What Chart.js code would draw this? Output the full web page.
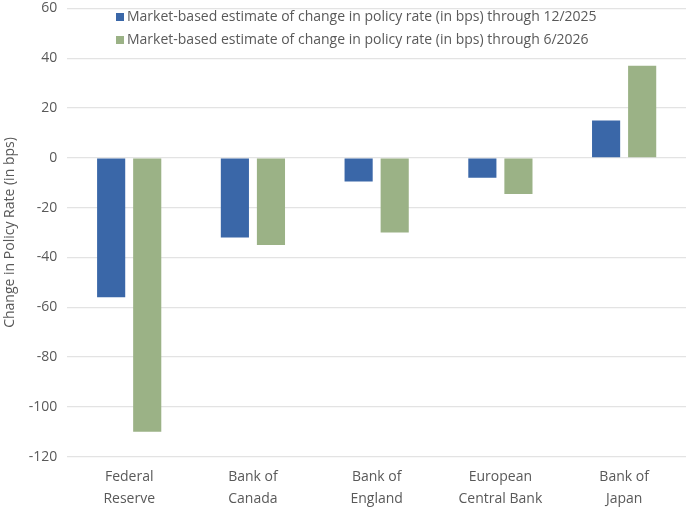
<!DOCTYPE html>
<html>
<head>
<meta charset="utf-8">
<script src="https://cdn.jsdelivr.net/npm/chart.js@4.4.0/dist/chart.umd.min.js"></script>
<style>
  html, body { margin: 0; padding: 0; background: #fff; overflow: hidden; }
  #wrap { width: 700px; height: 522px; position: relative; margin-top: -10px; }
</style>
</head>
<body>
<div id="wrap"><canvas id="chart"></canvas></div>
<script>
// Data
const banks = [
  ["Federal", "Reserve"],
  ["Bank of", "Canada"],
  ["Bank of", "England"],
  ["European", "Central Bank"],
  ["Bank of", "Japan"]
];
const through2025 = [-56, -32, -9.5, -8, 15];
const through2026 = [-110, -35, -30, -14.5, 37];
const seriesNames = [
  "Market-based estimate of change in policy rate (in bps) through 12/2025",
  "Market-based estimate of change in policy rate (in bps) through 6/2026"
];

const blue = "#3a67a8";
const green = "#9bb286";
const textColor = "#595959";
const fontFamily = "'Open Sans', 'Noto Sans', sans-serif";

// legend sits inside the plot area, so draw it by hand
const innerLegend = {
  id: "innerLegend",
  afterDraw(chart) {
    const ctx = chart.ctx;
    ctx.save();
    ctx.font = "14px " + fontFamily;
    ctx.textBaseline = "middle";
    chart.data.datasets.forEach((ds, i) => {
      const y = 27 + i * 23; // canvas is shifted up 10px
      ctx.fillStyle = ds.backgroundColor;
      ctx.fillRect(116, y - 4, 8, 8);
      ctx.fillStyle = textColor;
      ctx.fillText(ds.label, 127, y);
    });
    ctx.restore();
  }
};

const ctx = document.getElementById("chart").getContext("2d");
new Chart(ctx, {
  type: "bar",
  data: {
    labels: banks,
    datasets: [
      { label: seriesNames[0], data: through2025, backgroundColor: blue },
      { label: seriesNames[1], data: through2026, backgroundColor: green }
    ]
  },
  options: {
    responsive: true,
    maintainAspectRatio: false,
    animation: false,
    layout: { padding: { top: 0, right: 14, left: 2, bottom: 0 } },
    datasets: {
      bar: { categoryPercentage: 0.583, barPercentage: 0.78 }
    },
    scales: {
      x: {
        grid: { display: false },
        border: { display: false },
        ticks: {
          color: textColor,
          font: { family: fontFamily, size: 14, lineHeight: 1.55 },
          padding: 2
        }
      },
      y: {
        min: -120,
        max: 60,
        ticks: {
          stepSize: 20,
          color: textColor,
          font: { family: fontFamily, size: 14 },
          padding: 10
        },
        grid: { color: "#e3e3e3", lineWidth: 1.2, drawTicks: false },
        border: { display: false },
        title: {
          display: true,
          text: "Change in Policy Rate (in bps)",
          color: textColor,
          font: { family: fontFamily, size: 14 },
          padding: { top: 0, bottom: 0 }
        }
      }
    },
    plugins: {
      legend: { display: false },
      tooltip: { enabled: false }
    }
  },
  plugins: [innerLegend]
});
</script>
</body>
</html>
